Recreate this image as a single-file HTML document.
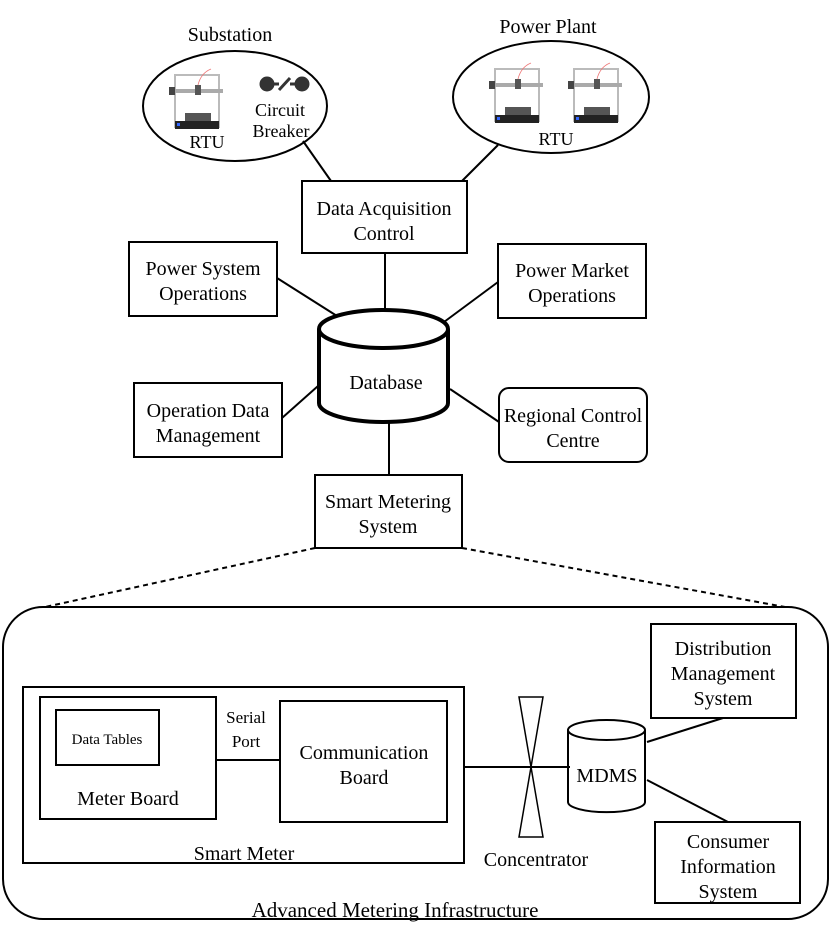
<!DOCTYPE html>
<html><head><meta charset="utf-8"><style>
html,body{margin:0;padding:0;background:#fff;}
svg{display:block;font-family:"Liberation Serif",serif;}
</style></head><body>
<svg width="830" height="928" viewBox="0 0 830 928" xmlns="http://www.w3.org/2000/svg">
<defs>
<g id="rtu">
  <rect x="0" y="0" width="44" height="52" fill="none" stroke="#bbb" stroke-width="2"/>
  <rect x="-6" y="14" width="54" height="4" fill="#aaa"/>
  <rect x="-6" y="12" width="6" height="8" fill="#444"/>
  <rect x="20" y="10" width="6" height="10" fill="#555"/>
  <path d="M23 10 Q26 -2 36 -6" fill="none" stroke="#e77" stroke-width="0.8"/>
  <rect x="10" y="38" width="26" height="8" fill="#555"/>
  <rect x="0" y="46" width="44" height="8" fill="#222"/>
  <rect x="2" y="48" width="3" height="3" fill="#36f"/>
</g>
</defs>
<g fill="none" stroke="#000" stroke-width="2">
<ellipse cx="235" cy="106" rx="92" ry="55"/>
<ellipse cx="551" cy="97" rx="98" ry="56"/>
<line x1="303" y1="141" x2="331" y2="181"/>
<line x1="498" y1="145" x2="462" y2="181"/>
<rect x="302" y="181" width="165" height="72"/>
<line x1="385" y1="253" x2="385" y2="310"/>
<rect x="129" y="242" width="148" height="74"/>
<rect x="498" y="244" width="148" height="74"/>
<rect x="134" y="383" width="148" height="74"/>
<rect x="499" y="388" width="148" height="74" rx="10"/>
<line x1="277" y1="278" x2="337" y2="316"/>
<line x1="498" y1="282" x2="444" y2="322"/>
<line x1="282" y1="418" x2="318" y2="386"/>
<line x1="499" y1="422" x2="450" y2="389"/>
<line x1="389" y1="422" x2="389" y2="475"/>
<rect x="315" y="475" width="147" height="73"/>
<line x1="315" y1="548" x2="45" y2="607" stroke-dasharray="5,4"/>
<line x1="462" y1="548" x2="785" y2="607" stroke-dasharray="5,4"/>
<rect x="3" y="607" width="825" height="312" rx="40"/>
<rect x="23" y="687" width="441" height="176"/>
<rect x="40" y="697" width="176" height="122"/>
<rect x="56" y="710" width="103" height="55"/>
<line x1="216" y1="760" x2="280" y2="760"/>
<rect x="280" y="701" width="167" height="121"/>
<line x1="464" y1="767" x2="570" y2="767"/>
<path d="M519 697 L543 697 L519 837 L543 837 Z" stroke-width="1.5"/>
<path d="M568 730 L568 802 A38 10 0 0 0 645 802 L645 730"/>
<ellipse cx="606.5" cy="730" rx="38.5" ry="10"/>
<line x1="647" y1="742" x2="723" y2="718"/>
<line x1="647" y1="780" x2="728" y2="822"/>
<rect x="651" y="624" width="145" height="94"/>
<rect x="655" y="822" width="145" height="81"/>
</g>
<g fill="none" stroke="#000" stroke-width="4">
<path d="M319 329 L319 403 A64.5 19 0 0 0 448 403 L448 329"/>
<ellipse cx="383.5" cy="329" rx="64.5" ry="19"/>
</g>
<use href="#rtu" x="175" y="75"/>
<use href="#rtu" x="495" y="69"/>
<use href="#rtu" x="574" y="69"/>
<g fill="#333" stroke="#333">
<circle cx="267" cy="84" r="7"/><circle cx="302" cy="84" r="7"/>
<line x1="267" y1="84" x2="279" y2="84" stroke-width="3"/>
<line x1="290" y1="84" x2="302" y2="84" stroke-width="3"/>
<line x1="279" y1="90" x2="290" y2="78" stroke-width="3"/>
</g>
<g font-size="20" text-anchor="middle" fill="#000">
<text x="230" y="41">Substation</text>
<text x="548" y="33">Power Plant</text>
<text x="207" y="148" font-size="18">RTU</text>
<text x="280" y="116" font-size="18">Circuit</text>
<text x="281" y="137" font-size="18">Breaker</text>
<text x="556" y="145" font-size="18">RTU</text>
<text x="384" y="215">Data Acquisition</text>
<text x="384" y="240">Control</text>
<text x="203" y="275">Power System</text>
<text x="203" y="300">Operations</text>
<text x="572" y="277">Power Market</text>
<text x="572" y="302">Operations</text>
<text x="386" y="389">Database</text>
<text x="208" y="417">Operation Data</text>
<text x="208" y="442">Management</text>
<text x="573" y="422">Regional Control</text>
<text x="573" y="447">Centre</text>
<text x="388" y="508">Smart Metering</text>
<text x="388" y="533">System</text>
<text x="107" y="744" font-size="15">Data Tables</text>
<text x="128" y="805">Meter Board</text>
<text x="246" y="723" font-size="17">Serial</text>
<text x="246" y="747" font-size="17">Port</text>
<text x="364" y="759">Communication</text>
<text x="364" y="784">Board</text>
<text x="244" y="860">Smart Meter</text>
<text x="536" y="866">Concentrator</text>
<text x="607" y="782">MDMS</text>
<text x="723" y="655">Distribution</text>
<text x="723" y="680">Management</text>
<text x="723" y="705">System</text>
<text x="728" y="848">Consumer</text>
<text x="728" y="873">Information</text>
<text x="728" y="898">System</text>
<text x="395" y="917" font-size="21">Advanced Metering Infrastructure</text>
</g>
</svg>
</body></html>
